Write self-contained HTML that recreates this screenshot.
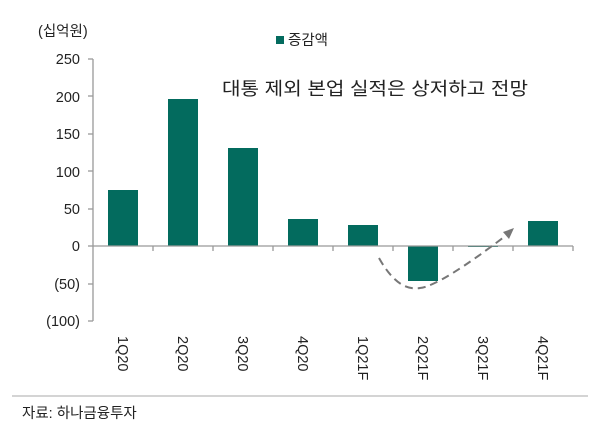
<!DOCTYPE html>
<html><head><meta charset="utf-8"><style>
body{margin:0;background:#fff;}
svg text{font-family:"Liberation Sans","Noto Sans CJK KR",sans-serif;fill:#222;}
</style></head><body>
<svg width="600" height="436" viewBox="0 0 600 436" xmlns="http://www.w3.org/2000/svg">
<rect width="600" height="436" fill="#fff"/>
<text x="38" y="36" font-size="14.5">(십억원)</text>
<rect x="276" y="36" width="8" height="8" fill="#036b5e"/>
<text x="288" y="45" font-size="14.5">증감액</text>
<text x="222" y="95" font-size="18" textLength="306" lengthAdjust="spacingAndGlyphs">대통 제외 본업 실적은 상저하고 전망</text>
<g font-size="14.5" text-anchor="end">
<text x="80" y="64">250</text>
<text x="80" y="102">200</text>
<text x="80" y="139">150</text>
<text x="80" y="177">100</text>
<text x="80" y="214">50</text>
<text x="80" y="251">0</text>
<text x="80" y="289">(50)</text>
<text x="80" y="326">(100)</text>
</g>
<g stroke="#999" stroke-width="1.3" fill="none">
<line x1="93" y1="59" x2="93" y2="321"/>
<line x1="88" y1="59" x2="93" y2="59"/>
<line x1="88" y1="96" x2="93" y2="96"/>
<line x1="88" y1="134" x2="93" y2="134"/>
<line x1="88" y1="171" x2="93" y2="171"/>
<line x1="88" y1="209" x2="93" y2="209"/>
<line x1="88" y1="246" x2="93" y2="246"/>
<line x1="88" y1="284" x2="93" y2="284"/>
<line x1="88" y1="321" x2="93" y2="321"/>
</g>
<g fill="#036b5e">
<rect x="108" y="190" width="30" height="56"/>
<rect x="168" y="99" width="30" height="147"/>
<rect x="228" y="148" width="30" height="98"/>
<rect x="288" y="219" width="30" height="27"/>
<rect x="348" y="225" width="30" height="21"/>
<rect x="408" y="246" width="30" height="35"/>
<rect x="468" y="246" width="30" height="1"/>
<rect x="528" y="221" width="30" height="25"/>
</g>
<g stroke="#999" stroke-width="1.3">
<line x1="93" y1="246" x2="573" y2="246"/>
<line x1="153" y1="246" x2="153" y2="251"/>
<line x1="213" y1="246" x2="213" y2="251"/>
<line x1="273" y1="246" x2="273" y2="251"/>
<line x1="333" y1="246" x2="333" y2="251"/>
<line x1="393" y1="246" x2="393" y2="251"/>
<line x1="453" y1="246" x2="453" y2="251"/>
<line x1="513" y1="246" x2="513" y2="251"/>
<line x1="573" y1="246" x2="573" y2="251"/>
</g>
<path d="M379 258 Q398 292 420 288 Q440 286 508 234" stroke="#777" stroke-width="2" stroke-dasharray="8,5" fill="none"/>
<path d="M514 228 L503 232 L509 239 Z" fill="#777"/>
<g font-size="14.5">
<text transform="translate(118,336) rotate(90)">1Q20</text>
<text transform="translate(178,336) rotate(90)">2Q20</text>
<text transform="translate(238,336) rotate(90)">3Q20</text>
<text transform="translate(298,336) rotate(90)">4Q20</text>
<text transform="translate(358,336) rotate(90)">1Q21F</text>
<text transform="translate(418,336) rotate(90)">2Q21F</text>
<text transform="translate(478,336) rotate(90)">3Q21F</text>
<text transform="translate(538,336) rotate(90)">4Q21F</text>
</g>
<line x1="12" y1="396" x2="588" y2="396" stroke="#aaa" stroke-width="1"/>
<text x="22" y="418" font-size="14.5">자료: 하나금융투자</text>
</svg>
</body></html>
